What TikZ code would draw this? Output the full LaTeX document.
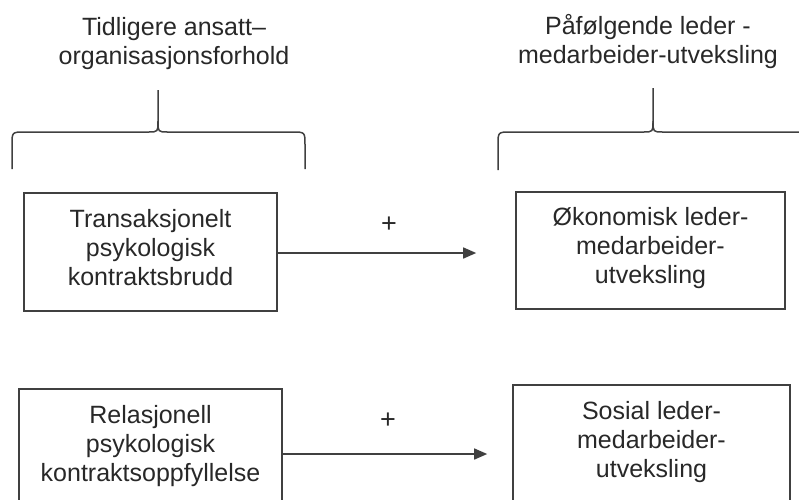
\documentclass[tikz,border=0pt]{standalone}
\usepackage{fontspec}
\setmainfont{Liberation Sans}
\usetikzlibrary{arrows.meta}
\definecolor{linecol}{RGB}{64,64,64}
\definecolor{txtcol}{RGB}{40,40,40}
\begin{document}
\begin{tikzpicture}[x=1pt,y=-1pt,
  box/.style={draw=linecol, line width=1.6pt, align=center, inner sep=0pt,
    font=\fontsize{25}{29}\selectfont, text=txtcol, text height=76pt, text depth=10pt},
  title/.style={align=center, font=\fontsize{25}{29}\selectfont, text=txtcol, anchor=base, inner sep=0pt},
  plus/.style={font=\fontsize{27}{30}\selectfont, text=txtcol, inner sep=0pt},
  arr/.style={draw=linecol, line width=1.5pt, -{Triangle[length=13pt,width=11pt]}},
  bracestyle/.style={draw=linecol, line width=1.5pt}]
\useasboundingbox (0,0) rectangle (799,499);
\clip (0,0) rectangle (799,499);
% titles
\node[title] (t1) at (174,64) {Tidligere ansatt--\\organisasjonsforhold};
\node[title] (t2) at (648,63) {Påfølgende leder -\\medarbeider-utveksling};
% braces
\draw[bracestyle] (12,169) -- (12,145) .. controls (12,132) .. (25,132) -- (148,132)
  .. controls (158,132) .. (158,121) -- (158,90);
\draw[bracestyle] (305,169) -- (305,145) .. controls (305,132) .. (292,132) -- (168,132)
  .. controls (158,132) .. (158,121);
\draw[bracestyle] (498,170) -- (498,145) .. controls (498,132) .. (511,132) -- (643,132)
  .. controls (653,132) .. (653,121) -- (653,88);
\draw[bracestyle] (808,170) -- (808,145) .. controls (808,132) .. (795,132) -- (663,132)
  .. controls (653,132) .. (653,121);
% boxes
\node[box, minimum width=253pt, minimum height=118pt] (tl) at (150.5,252)
  {Transaksjonelt\\psykologisk\\kontraktsbrudd};
\node[box, minimum width=269pt, minimum height=117pt] (tr) at (650.5,250.5)
  {Økonomisk leder-\\medarbeider-\\utveksling};
\node[box, minimum width=263pt, minimum height=118pt] (bl) at (150.5,448)
  {Relasjonell\\psykologisk\\kontraktsoppfyllelse};
\node[box, minimum width=277pt, minimum height=118pt] (br) at (651.5,444)
  {Sosial leder-\\medarbeider-\\utveksling};
% arrows
\draw[arr, shorten >=39pt] ([yshift=-1pt]tl.east) -- ([yshift=-1pt]tl.east -| tr.west);
\node[plus] (p1) at (389,225) {+};
\draw[arr, shorten >=25pt] ([yshift=-6pt]bl.east) -- ([yshift=-6pt]bl.east -| br.west);
\node[plus] (p2) at (388,421) {+};
\end{tikzpicture}
\end{document}
